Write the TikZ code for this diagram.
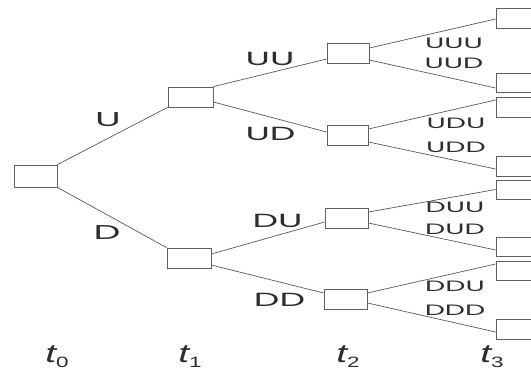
\documentclass[tikz,border=0pt]{standalone}
\usepackage{fontspec}
\newfontfamily\lblfont[FakeStretch=1.9]{Poppins}
\newfontfamily\tfont[FakeStretch=1.5]{Liberation Sans}
\definecolor{linegray}{HTML}{5A5A5A}
\definecolor{boxgray}{HTML}{606060}
\definecolor{txtgray}{HTML}{2E2E2E}
\tikzset{
  nbox/.style={draw=boxgray, line width=0.8pt, rectangle, inner sep=0pt, minimum height=20pt},
  edge/.style={draw=linegray, line width=0.7pt},
  biglbl/.style={text=txtgray, inner sep=0pt, font=\lblfont\fontsize{20}{20}\selectfont},
  midlbl/.style={text=txtgray, inner sep=0pt, font=\lblfont\fontsize{19}{19}\selectfont},
  smalllbl/.style={text=txtgray, inner sep=0pt, font=\lblfont\fontsize{15}{15}\selectfont},
  tlbl/.style={text=txtgray, inner sep=0pt, anchor=base}
}
\newcommand{\tsub}[1]{{\tfont\fontsize{26}{26}\selectfont\itshape t}\raisebox{-5pt}{\tfont\fontsize{15}{15}\selectfont #1}}
\begin{document}
\begin{tikzpicture}[x=1pt,y=-1pt]
\useasboundingbox[fill=white] (0,0) rectangle (531,370);
% boxes
\node[nbox, minimum width=43pt, minimum height=22pt] (r) at (35.5,176) {};
\node[nbox, minimum width=45pt] (a) at (190.5,97) {};
\node[nbox, minimum width=44pt] (b) at (189,258) {};
\node[nbox, minimum width=42pt] (uu) at (348,53) {};
\node[nbox, minimum width=41pt] (ud) at (347.5,135) {};
\node[nbox, minimum width=43pt] (du) at (346.5,218) {};
\node[nbox, minimum width=43pt] (dd) at (345.5,299) {};
\node[nbox, minimum width=44pt] (uuu) at (518,18) {};
\node[nbox, minimum width=44pt, minimum height=19pt] (uud) at (518,82.5) {};
\node[nbox, minimum width=44pt] (udu) at (518,107) {};
\node[nbox, minimum width=44pt] (udd) at (518,166) {};
\node[nbox, minimum width=44pt, minimum height=19pt] (duu) at (518,189.5) {};
\node[nbox, minimum width=44pt, minimum height=19pt] (dud) at (518,246.5) {};
\node[nbox, minimum width=44pt, minimum height=19pt] (ddu) at (518,270.5) {};
\node[nbox, minimum width=44pt] (ddd) at (518,329) {};
% edges
\draw[edge] (r.north east) -- (a.south west);
\draw[edge] (r.south east) -- (b.north west);
\draw[edge] (a.north east) -- ([yshift=-6pt]uu.west);
\draw[edge] ([yshift=-5pt]a.east) -- ([yshift=3pt]ud.west);
\draw[edge] ([yshift=4pt]b.east) -- ([yshift=-4pt]du.west);
\draw[edge] ([yshift=-7pt]b.east) -- ([yshift=6pt]dd.west);
\draw[edge] ([yshift=5pt]uu.east) -- ([yshift=-1pt]uuu.west);
\draw[edge] ([yshift=-7pt]uu.east) -- ([yshift=-5.5pt]uud.west);
\draw[edge] ([yshift=6pt]ud.east) -- ([yshift=7pt]udu.west);
\draw[edge] ([yshift=-7pt]ud.east) -- ([yshift=-3pt]udd.west);
\draw[edge] ([yshift=6pt]du.east) -- (duu.west);
\draw[edge] ([yshift=-5pt]du.east) -- ([yshift=-3.5pt]dud.west);
\draw[edge] ([yshift=6pt]dd.east) -- ([yshift=6.5pt]ddu.west);
\draw[edge] ([yshift=-4pt]dd.east) -- ([yshift=-3pt]ddd.west);
% labels
\node[biglbl] (lu) at (108,119.5) {U};
\node[biglbl] (ld) at (107,233) {D};
\node[midlbl] (luu) at (270,59) {UU};
\node[midlbl] (lud) at (270.5,133.5) {UD};
\node[midlbl] (ldu) at (277.5,220.5) {DU};
\node[midlbl] (ldd) at (279.5,299.5) {DD};
\node[smalllbl] (luuu) at (454,43) {UUU};
\node[smalllbl] (luud) at (454,63.5) {UUD};
\node[smalllbl] (ludu) at (456,123) {UDU};
\node[smalllbl] (ludd) at (456,147) {UDD};
\node[smalllbl] (lduu) at (455,207) {DUU};
\node[smalllbl] (ldud) at (455,229.5) {DUD};
\node[smalllbl] (lddu) at (455,286) {DDU};
\node[smalllbl] (lddd) at (455,310) {DDD};
% time labels
\node[tlbl] (t0) at (57,362) {\tsub{0}};
\node[tlbl] (t1) at (190,362) {\tsub{1}};
\node[tlbl] (t2) at (348,362) {\tsub{2}};
\node[tlbl] (t3) at (492,362) {\tsub{3}};
\end{tikzpicture}
\end{document}
